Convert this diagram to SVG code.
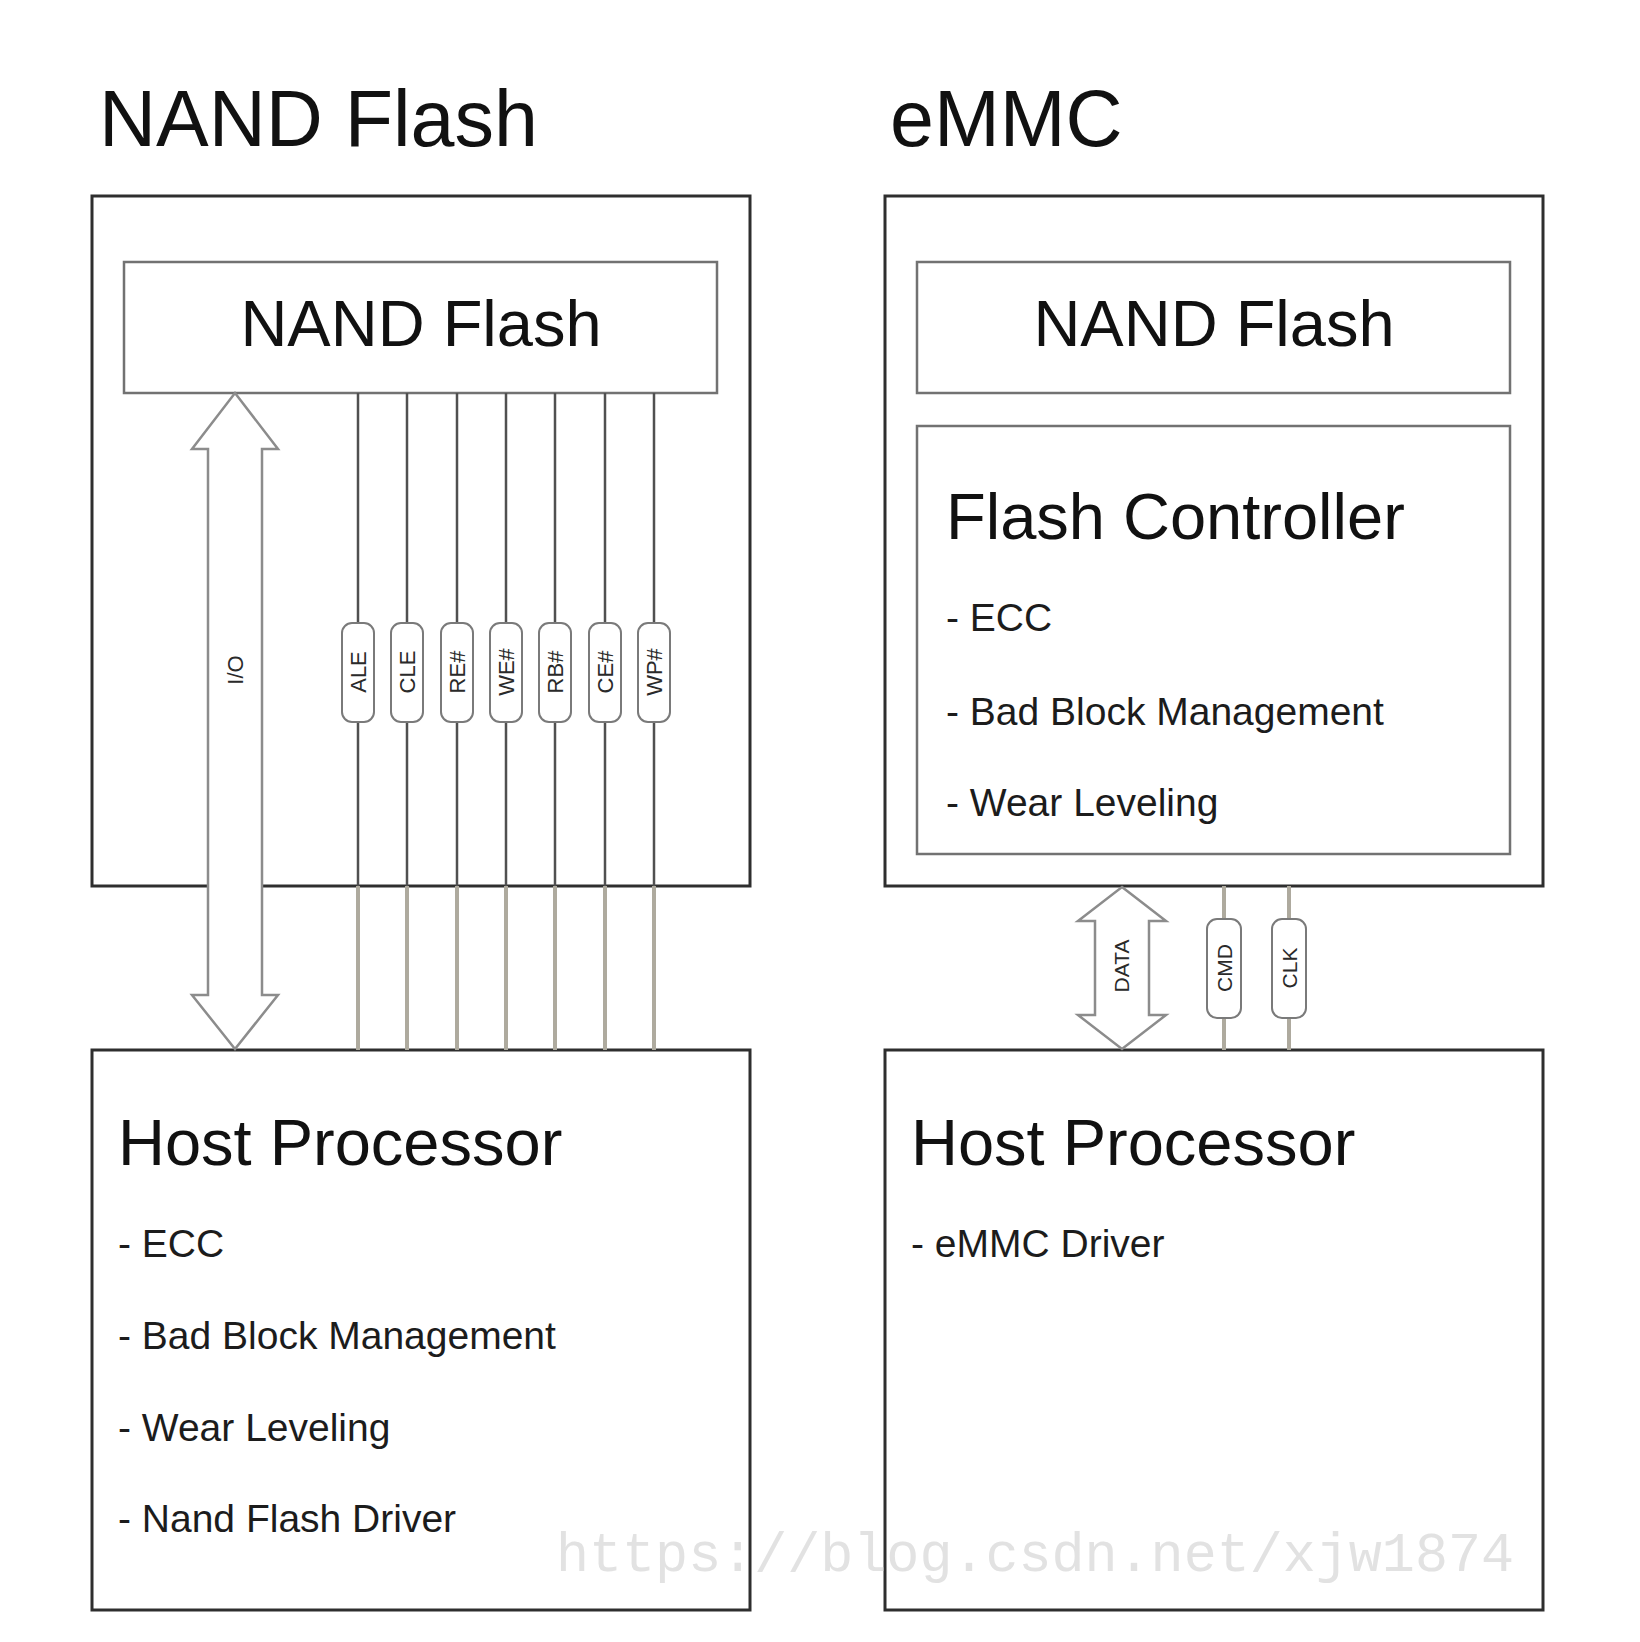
<svg xmlns="http://www.w3.org/2000/svg" width="1640" height="1642" viewBox="0 0 1640 1642">
<style>
.outer{fill:#fff;stroke:#2e2e2e;stroke-width:3}
.inner{fill:#fff;stroke:#727272;stroke-width:2.5}
.t{font-family:"Liberation Sans",Arial,Helvetica,sans-serif;fill:#111}
.title{font-size:79px}
.big{font-size:65px}
.item{font-size:39px;fill:#1c1c1c}
.sigin{stroke:#505050;stroke-width:2.5;fill:none}
.sigout{stroke:#aeaa9e;stroke-width:4;fill:none}
.chip{fill:#fff;stroke:#7a7a7a;stroke-width:2}
.lbl{font-family:"Liberation Sans",Arial,sans-serif;font-size:22px;fill:#2a2a2a;text-anchor:middle;dominant-baseline:central}
.arrow{fill:#fff;stroke:#8c8c8c;stroke-width:2.5;stroke-linejoin:miter}
.wm{font-family:"Liberation Mono","DejaVu Sans Mono",monospace;font-size:55px;fill:#e2e2e2;font-weight:normal}
</style>
<rect width="1640" height="1642" fill="#fff"/>

<g id="title-nand"><text class="t title" x="99" y="146">NAND Flash</text></g>
<g id="title-emmc"><text class="t title" x="890" y="146">eMMC</text></g>

<g id="nand-outer"><rect class="outer" x="92" y="196" width="658" height="690"/></g>
<g id="nand-chip">
<rect class="inner" x="124" y="262" width="593" height="131"/>
<text class="t big" x="421" y="346" text-anchor="middle">NAND Flash</text>
</g>
<g id="nand-host">
<rect class="outer" x="92" y="1050" width="658" height="560"/>
<text class="t big" x="118" y="1165">Host Processor</text>
<text class="t item" x="118" y="1257">- ECC</text>
<text class="t item" x="118" y="1349">- Bad Block Management</text>
<text class="t item" x="118" y="1441">- Wear Leveling</text>
<text class="t item" x="118" y="1532">- Nand Flash Driver</text>
</g>

<g id="emmc-outer"><rect class="outer" x="885" y="196" width="658" height="690"/></g>
<g id="emmc-nand">
<rect class="inner" x="917" y="262" width="593" height="131"/>
<text class="t big" x="1214" y="346" text-anchor="middle">NAND Flash</text>
</g>
<g id="emmc-controller">
<rect class="inner" x="917" y="426" width="593" height="428"/>
<text class="t big" x="946" y="539">Flash Controller</text>
<text class="t item" x="946" y="631">- ECC</text>
<text class="t item" x="946" y="725">- Bad Block Management</text>
<text class="t item" x="946" y="816">- Wear Leveling</text>
</g>
<g id="emmc-host">
<rect class="outer" x="885" y="1050" width="658" height="560"/>
<text class="t big" x="911" y="1165">Host Processor</text>
<text class="t item" x="911" y="1257">- eMMC Driver</text>
</g>

<g id="connectors">
<g id="io-bus">
<path class="arrow" d="M235,393 L278,449 L262,449 L262,995 L278,995 L235,1049 L192,995 L208,995 L208,449 L192,449 Z"/>
<text class="lbl" transform="translate(235,670) rotate(-90)">I/O</text>
</g>
<g id="ale"><line class="sigin" x1="358" y1="393" x2="358" y2="886"/><line class="sigout" x1="358" y1="886" x2="358" y2="1050"/><rect class="chip" x="342" y="623" width="32" height="99" rx="10"/><text class="lbl" transform="translate(358,672) rotate(-90)">ALE</text></g>
<g id="cle"><line class="sigin" x1="407" y1="393" x2="407" y2="886"/><line class="sigout" x1="407" y1="886" x2="407" y2="1050"/><rect class="chip" x="391" y="623" width="32" height="99" rx="10"/><text class="lbl" transform="translate(407,672) rotate(-90)">CLE</text></g>
<g id="re"><line class="sigin" x1="457" y1="393" x2="457" y2="886"/><line class="sigout" x1="457" y1="886" x2="457" y2="1050"/><rect class="chip" x="441" y="623" width="32" height="99" rx="10"/><text class="lbl" transform="translate(457,672) rotate(-90)">RE#</text></g>
<g id="we"><line class="sigin" x1="506" y1="393" x2="506" y2="886"/><line class="sigout" x1="506" y1="886" x2="506" y2="1050"/><rect class="chip" x="490" y="623" width="32" height="99" rx="10"/><text class="lbl" transform="translate(506,672) rotate(-90)">WE#</text></g>
<g id="rb"><line class="sigin" x1="555" y1="393" x2="555" y2="886"/><line class="sigout" x1="555" y1="886" x2="555" y2="1050"/><rect class="chip" x="539" y="623" width="32" height="99" rx="10"/><text class="lbl" transform="translate(555,672) rotate(-90)">RB#</text></g>
<g id="ce"><line class="sigin" x1="605" y1="393" x2="605" y2="886"/><line class="sigout" x1="605" y1="886" x2="605" y2="1050"/><rect class="chip" x="589" y="623" width="32" height="99" rx="10"/><text class="lbl" transform="translate(605,672) rotate(-90)">CE#</text></g>
<g id="wp"><line class="sigin" x1="654" y1="393" x2="654" y2="886"/><line class="sigout" x1="654" y1="886" x2="654" y2="1050"/><rect class="chip" x="638" y="623" width="32" height="99" rx="10"/><text class="lbl" transform="translate(654,672) rotate(-90)">WP#</text></g>

<g id="data-bus">
<path class="arrow" d="M1122,887 L1166,921 L1149,921 L1149,1015 L1166,1015 L1122,1049 L1078,1015 L1095,1015 L1095,921 L1078,921 Z"/>
<text class="lbl" style="font-size:21px" transform="translate(1121,966) rotate(-90)">DATA</text>
</g>
<g id="cmd"><line class="sigout" x1="1224" y1="886" x2="1224" y2="1050"/><rect class="chip" x="1207" y="919" width="34" height="99" rx="10"/><text class="lbl" style="font-size:21px" transform="translate(1224,968) rotate(-90)">CMD</text></g>
<g id="clk"><line class="sigout" x1="1289" y1="886" x2="1289" y2="1050"/><rect class="chip" x="1272" y="919" width="34" height="99" rx="10"/><text class="lbl" style="font-size:21px" transform="translate(1289,968) rotate(-90)">CLK</text></g>
</g>

<text class="wm" x="556" y="1571" textLength="958" lengthAdjust="spacingAndGlyphs">https://blog.csdn.net/xjw1874</text>
</svg>
